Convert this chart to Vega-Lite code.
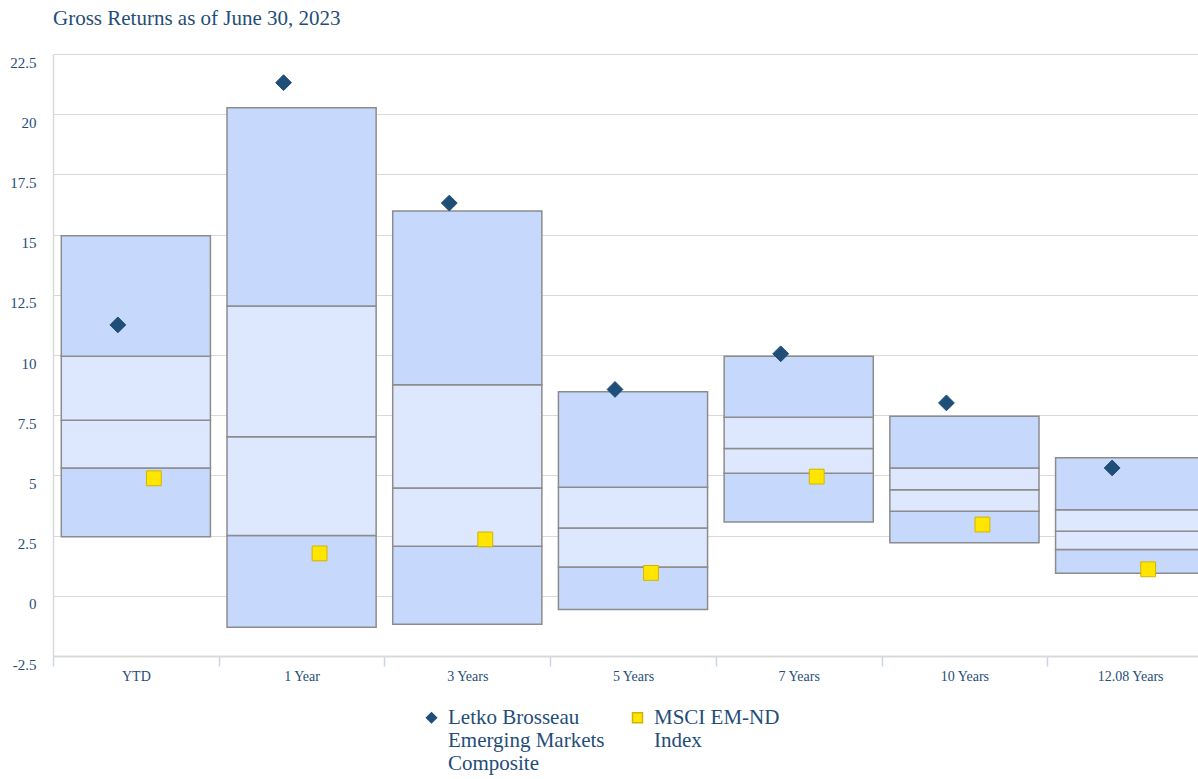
{
  "$schema": "https://vega.github.io/schema/vega-lite/v6.json",
  "autosize": {"type": "none"},
  "width": 1145,
  "height": 602,
  "padding": {"left": 53, "top": 54, "right": 0, "bottom": 123},
  "background": "white",
  "title": {"text": "Gross Returns as of June 30, 2023", "anchor": "start", "frame": "group", "font": "Liberation Serif", "fontSize": 21, "fontWeight": "normal", "color": "#1f4e79", "offset": 25},
  "datasets": {
    "boxes": [
      {"period": "YTD", "band": "outer", "lo": 2.45, "hi": 5.31},
      {"period": "YTD", "band": "inner", "lo": 5.31, "hi": 7.29},
      {"period": "YTD", "band": "inner", "lo": 7.29, "hi": 9.95},
      {"period": "YTD", "band": "outer", "lo": 9.95, "hi": 14.95},
      {"period": "1 Year", "band": "outer", "lo": -1.31, "hi": 2.5},
      {"period": "1 Year", "band": "inner", "lo": 2.5, "hi": 6.6},
      {"period": "1 Year", "band": "inner", "lo": 6.6, "hi": 12.03},
      {"period": "1 Year", "band": "outer", "lo": 12.03, "hi": 20.27},
      {"period": "3 Years", "band": "outer", "lo": -1.18, "hi": 2.06},
      {"period": "3 Years", "band": "inner", "lo": 2.06, "hi": 4.48},
      {"period": "3 Years", "band": "inner", "lo": 4.48, "hi": 8.76},
      {"period": "3 Years", "band": "outer", "lo": 8.76, "hi": 15.98},
      {"period": "5 Years", "band": "outer", "lo": -0.57, "hi": 1.2},
      {"period": "5 Years", "band": "inner", "lo": 1.2, "hi": 2.82},
      {"period": "5 Years", "band": "inner", "lo": 2.82, "hi": 4.51},
      {"period": "5 Years", "band": "outer", "lo": 4.51, "hi": 8.47},
      {"period": "7 Years", "band": "outer", "lo": 3.06, "hi": 5.09},
      {"period": "7 Years", "band": "inner", "lo": 5.09, "hi": 6.12},
      {"period": "7 Years", "band": "inner", "lo": 6.12, "hi": 7.41},
      {"period": "7 Years", "band": "outer", "lo": 7.41, "hi": 9.95},
      {"period": "10 Years", "band": "outer", "lo": 2.2, "hi": 3.51},
      {"period": "10 Years", "band": "inner", "lo": 3.51, "hi": 4.4},
      {"period": "10 Years", "band": "inner", "lo": 4.4, "hi": 5.31},
      {"period": "10 Years", "band": "outer", "lo": 5.31, "hi": 7.46},
      {"period": "12.08 Years", "band": "outer", "lo": 0.94, "hi": 1.92},
      {"period": "12.08 Years", "band": "inner", "lo": 1.92, "hi": 2.68},
      {"period": "12.08 Years", "band": "inner", "lo": 2.68, "hi": 3.57},
      {"period": "12.08 Years", "band": "outer", "lo": 3.57, "hi": 5.73}
    ],
    "points": [
      {"period": "YTD", "series": "Letko Brosseau Emerging Markets Composite", "value": 11.25},
      {"period": "1 Year", "series": "Letko Brosseau Emerging Markets Composite", "value": 21.31},
      {"period": "3 Years", "series": "Letko Brosseau Emerging Markets Composite", "value": 16.31},
      {"period": "5 Years", "series": "Letko Brosseau Emerging Markets Composite", "value": 8.57},
      {"period": "7 Years", "series": "Letko Brosseau Emerging Markets Composite", "value": 10.05},
      {"period": "10 Years", "series": "Letko Brosseau Emerging Markets Composite", "value": 8.01},
      {"period": "12.08 Years", "series": "Letko Brosseau Emerging Markets Composite", "value": 5.31},
      {"period": "YTD", "series": "MSCI EM-ND Index", "value": 4.88},
      {"period": "1 Year", "series": "MSCI EM-ND Index", "value": 1.76},
      {"period": "3 Years", "series": "MSCI EM-ND Index", "value": 2.34},
      {"period": "5 Years", "series": "MSCI EM-ND Index", "value": 0.95},
      {"period": "7 Years", "series": "MSCI EM-ND Index", "value": 4.95},
      {"period": "10 Years", "series": "MSCI EM-ND Index", "value": 2.96},
      {"period": "12.08 Years", "series": "MSCI EM-ND Index", "value": 1.1}
    ]
  },
  "encoding": {
    "x": {
      "field": "period", "type": "nominal", "sort": null,
      "scale": {"domain": ["YTD", "1 Year", "3 Years", "5 Years", "7 Years", "10 Years", "12.08 Years"], "range": [0, 1160], "paddingInner": 0, "paddingOuter": 0},
      "axis": {"title": null, "labelAngle": 0, "tickBand": "extent", "tickSize": 10, "tickColor": "#c8d5ea", "tickWidth": 1.5, "domainColor": "#d9d9d9", "domainWidth": 2, "labelFont": "Liberation Serif", "labelFontSize": 14, "labelColor": "#1f4e79", "labelPadding": 3, "grid": false}
    }
  },
  "layer": [
    {
      "data": {"name": "boxes"},
      "mark": {"type": "bar", "stroke": "#8c8c8c", "strokeWidth": 1.5, "width": {"band": 0.9}},
      "encoding": {
        "y": {"field": "lo", "type": "quantitative", "scale": {"domain": [-2.5, 22.5], "nice": false, "zero": false},
          "axis": {"title": null, "values": [-2.5, 0, 2.5, 5, 7.5, 10, 12.5, 15, 17.5, 20, 22.5], "labelExpr": "'' + datum.value", "ticks": false, "domainColor": "#d9d9d9", "domainWidth": 1.5, "gridColor": "#d9d9d9", "gridWidth": 1, "labelFont": "Liberation Serif", "labelFontSize": 15, "labelColor": "#1f4e79", "labelPadding": 17, "labelOffset": 8}},
        "y2": {"field": "hi"},
        "color": {"field": "band", "type": "nominal", "scale": {"domain": ["outer", "inner"], "range": ["#c6d9fd", "#dde7fe"]}, "legend": null}
      }
    },
    {
      "data": {"name": "points"},
      "transform": [{"filter": "datum.series == 'Letko Brosseau Emerging Markets Composite'"}],
      "mark": {"type": "point", "filled": true, "size": 250, "strokeWidth": 1, "xOffset": -18, "opacity": 1},
      "encoding": {
        "y": {"field": "value", "type": "quantitative"},
        "fill": {"field": "series", "type": "nominal", "scale": {"domain": ["Letko Brosseau Emerging Markets Composite", "MSCI EM-ND Index"], "range": ["#1f4e79", "#ffe500"]},
          "legend": {"orient": "none", "legendX": 368, "legendY": 653, "direction": "horizontal", "title": null, "labelExpr": "datum.label == 'MSCI EM-ND Index' ? ['MSCI EM-ND', 'Index', ' '] : ['Letko Brosseau', 'Emerging Markets', 'Composite']", "labelFont": "Liberation Serif", "labelFontSize": 21, "labelColor": "#1f4e79", "labelLimit": 400, "symbolSize": 100, "columnPadding": 22, "labelOffset": 6, "labelBaseline": "middle"}},
        "stroke": {"field": "series", "type": "nominal", "scale": {"domain": ["Letko Brosseau Emerging Markets Composite", "MSCI EM-ND Index"], "range": ["#1f4e79", "#d1b400"]}},
        "shape": {"field": "series", "type": "nominal", "scale": {"domain": ["Letko Brosseau Emerging Markets Composite", "MSCI EM-ND Index"], "range": ["diamond", "square"]}}
      }
    },
    {
      "data": {"name": "points"},
      "transform": [{"filter": "datum.series == 'MSCI EM-ND Index'"}],
      "mark": {"type": "point", "filled": true, "size": 220, "strokeWidth": 1, "xOffset": 18, "opacity": 1},
      "encoding": {
        "y": {"field": "value", "type": "quantitative"},
        "fill": {"field": "series", "type": "nominal"},
        "stroke": {"field": "series", "type": "nominal"},
        "shape": {"field": "series", "type": "nominal"}
      }
    }
  ],
  "config": {
    "view": {"stroke": null}
  }
}
